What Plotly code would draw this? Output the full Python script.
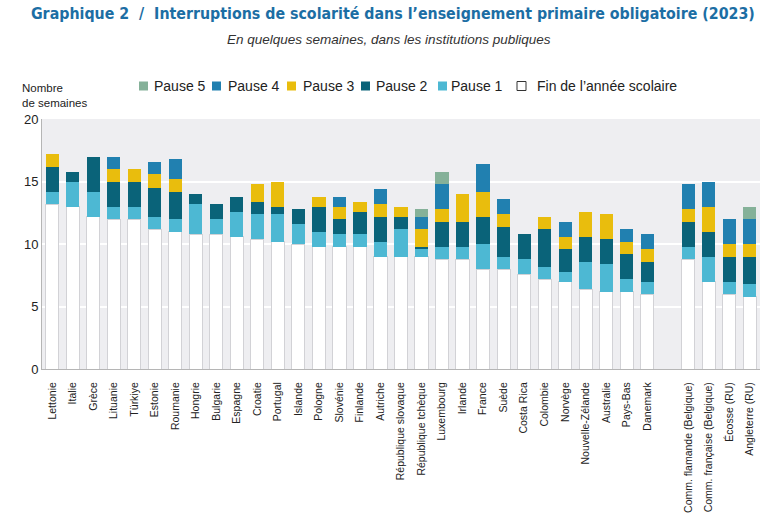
import plotly.graph_objects as go

categories = ["Lettonie", "Italie", "Grèce", "Lituanie", "Türkiye", "Estonie", "Roumanie",
              "Hongrie", "Bulgarie", "Espagne", "Croatie", "Portugal", "Islande", "Pologne",
              "Slovénie", "Finlande", "Autriche", "République slovaque", "République tchèque",
              "Luxembourg", "Irlande", "France", "Suède", "Costa Rica", "Colombie", "Norvège",
              "Nouvelle-Zélande", "Australie", "Pays-Bas", "Danemark",
              "Comm. flamande (Belgique)", "Comm. française (Belgique)", "Écosse (RU)", "Angleterre (RU)"]
positions = list(range(30)) + [31, 32, 33, 34]

fin_annee = [13.2, 13.0, 12.2, 12.0, 12.0, 11.2, 11.0, 10.8, 10.8, 10.6, 10.4, 10.2, 10.0, 9.8,
             9.8, 9.8, 9.0, 9.0, 9.0, 8.8, 8.8, 8.0, 8.0, 7.6, 7.2, 7.0, 6.4, 6.2, 6.2, 6.0,
             8.8, 7.0, 6.0, 5.8]
pause1 = [1.0, 2.0, 2.0, 1.0, 1.0, 1.0, 1.0, 2.4, 1.2, 2.0, 2.0, 2.2, 1.6, 1.2,
          1.0, 1.0, 1.2, 2.2, 0.6, 1.0, 1.0, 2.0, 1.0, 1.2, 1.0, 0.8, 2.2, 2.2, 1.0, 1.0,
          1.0, 2.0, 1.0, 1.0]
pause2 = [2.0, 0.8, 2.8, 2.0, 2.0, 2.3, 2.2, 0.8, 1.2, 1.2, 1.0, 0.6, 1.2, 2.0,
          1.2, 1.8, 2.0, 1.0, 0.2, 2.0, 2.0, 2.2, 2.4, 2.0, 3.0, 1.8, 2.0, 2.0, 2.0, 1.6,
          2.0, 2.0, 2.0, 2.2]
pause3 = [1.0, 0, 0, 1.0, 1.0, 1.1, 1.0, 0, 0, 0, 1.4, 2.0, 0, 0.8,
          1.0, 0.8, 1.0, 0.8, 1.4, 1.0, 2.2, 2.0, 1.0, 0, 1.0, 1.0, 2.0, 2.0, 1.0, 1.0,
          1.0, 2.0, 1.0, 1.0]
pause4 = [0, 0, 0, 1.0, 0, 1.0, 1.6, 0, 0, 0, 0, 0, 0, 0,
          0.8, 0, 1.2, 0, 1.0, 2.0, 0, 2.2, 1.2, 0, 0, 1.2, 0, 0, 1.0, 1.2,
          2.0, 2.0, 2.0, 2.0]
pause5 = [0, 0, 0, 0, 0, 0, 0, 0, 0, 0, 0, 0, 0, 0,
          0, 0, 0, 0, 0.6, 1.0, 0, 0, 0, 0, 0, 0, 0, 0, 0, 0,
          0, 0, 0, 1.0]

series_names = ["Fin de l'année scolaire", "Pause 1", "Pause 2", "Pause 3", "Pause 4", "Pause 5"]
series_values = [fin_annee, pause1, pause2, pause3, pause4, pause5]
series_colors = ["#ffffff", "#4db8d3", "#0a6379", "#e9bd0d", "#2180b0", "#85b199"]
legend_labels = ["Pause 5", "Pause 4", "Pause 3", "Pause 2", "Pause 1", "Fin de l’année scolaire"]

W, H = 778, 520
ML, MR, MT, MB = 42, 18, 119, 151
PH = H - MT - MB
PW = W - ML - MR


def px_x(x):
    return (x - ML) / PW


def px_y(y):
    return 1 + (MT - y) / PH


fig = go.Figure()
for name, vals, col in zip(series_names, series_values, series_colors):
    is_fin = name.startswith("Fin")
    fig.add_trace(go.Bar(
        x=positions, y=vals, name=name, showlegend=False,
        marker=dict(color=col,
                    line=dict(color="#d2d2d6" if is_fin else col, width=1 if is_fin else 0)),
        width=0.64,
        hovertemplate="%{y}<extra>" + name + "</extra>",
    ))

# manual legend (compact, as in the reference)
legend_sq_x = [139, 212, 287, 361, 438, 517]
legend_tx_x = [152, 226, 301, 374, 449, 535]
legend_cols = list(reversed(series_colors))
shapes = []
annotations = []
LY = 86
for lab, col, sx, tx in zip(legend_labels, legend_cols, legend_sq_x, legend_tx_x):
    is_fin = lab.startswith("Fin")
    shapes.append(dict(type="rect", xref="paper", yref="paper",
                       x0=px_x(sx), x1=px_x(sx + 9),
                       y0=px_y(LY + 4.5), y1=px_y(LY - 4.5),
                       fillcolor=col, line=dict(color="#333333" if is_fin else col,
                                                width=1 if is_fin else 0)))
    annotations.append(dict(text=lab, xref="paper", yref="paper",
                            x=px_x(tx), y=px_y(LY),
                            xanchor="left", yanchor="middle", showarrow=False,
                            font=dict(family="Liberation Sans, Arial, sans-serif", size=14,
                                      color="#222222")))

annotations += [
    dict(text="<i>En quelques semaines, dans les institutions publiques</i>",
         x=px_x(W / 2), xref="paper", xanchor="center",
         y=px_y(40), yref="paper", yanchor="middle", showarrow=False,
         font=dict(family="Liberation Sans, Arial, sans-serif", size=13.5, color="#333333")),
    dict(text="Nombre<br>de semaines", x=px_x(20), xref="paper",
         y=px_y(111), yref="paper",
         showarrow=False, align="left", xanchor="left", yanchor="bottom",
         font=dict(family="Liberation Sans, Arial, sans-serif", size=11.5, color="#222222")),
]

fig.update_layout(
    barmode="stack",
    width=W, height=H,
    margin=dict(l=ML, r=MR, t=MT, b=MB, autoexpand=False),
    paper_bgcolor="#ffffff",
    plot_bgcolor="#eeeef1",
    font=dict(family="Liberation Sans, Arial, sans-serif", size=12, color="#222222"),
    title=dict(
        text="Graphique 2  /  Interruptions de scolarité dans l’enseignement primaire obligatoire (2023)",
        x=0.505, xanchor="center", xref="container", y=1 - 13 / H, yanchor="middle",
        yref="container",
        font=dict(family="DejaVu Sans Condensed, DejaVu Sans", size=15.8,
                  color="#1c6ea4", weight="bold"),
    ),
    showlegend=False,
    xaxis=dict(
        range=[-0.5, 34.5], tickmode="array", tickvals=positions, ticktext=categories,
        tickangle=-90, showgrid=False, zeroline=False, showline=True,
        linecolor="#b5b5b5", linewidth=1, ticks="", ticklen=0, ticklabelstandoff=8,
        tickfont=dict(size=10.5, color="#222222"),
    ),
    yaxis=dict(
        range=[0, 20], tickvals=[0, 5, 10, 15, 20], showgrid=True, gridcolor="#ffffff",
        gridwidth=1.5, zeroline=False, showline=True, linecolor="#b5b5b5", linewidth=1,
        ticks="", tickfont=dict(size=13, color="#222222"),
    ),
    bargap=0.36,
    shapes=shapes,
    annotations=annotations,
)

fig.write_html("out.html")
